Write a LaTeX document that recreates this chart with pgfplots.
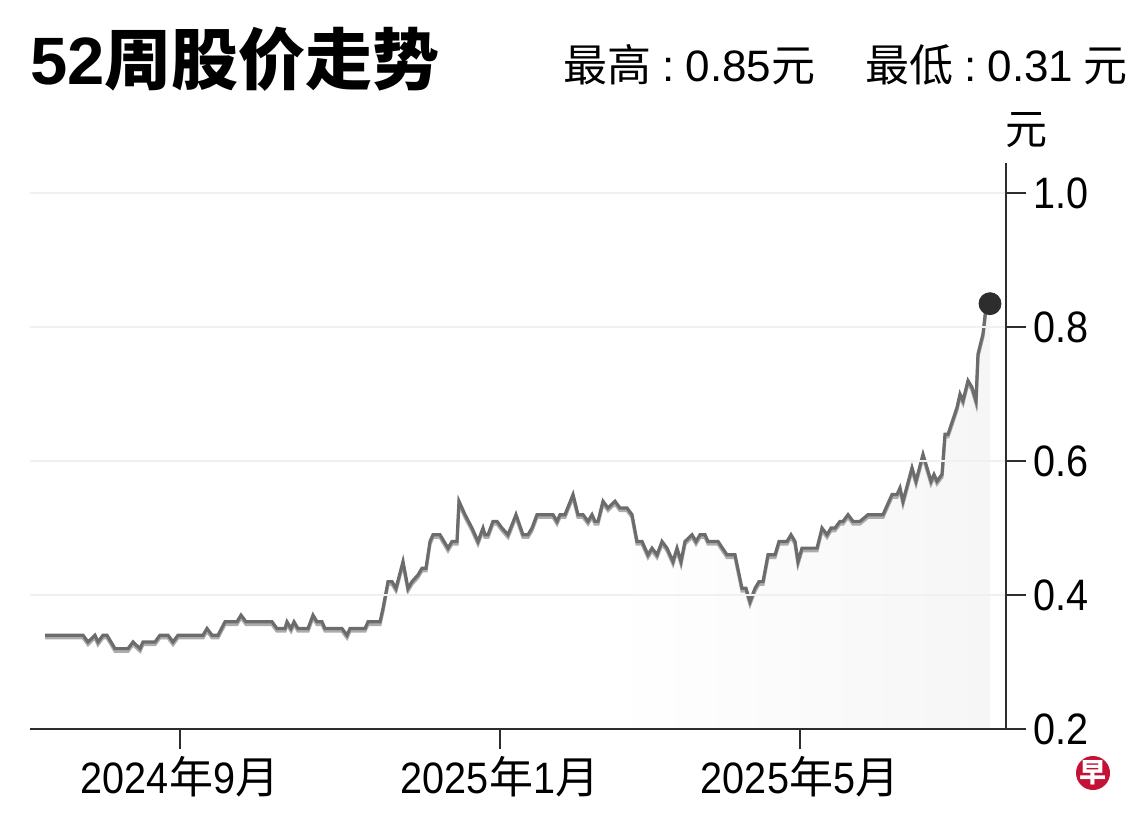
\documentclass[border=0pt]{standalone}
\usepackage{fontspec}
\setmainfont{Liberation Sans}
\newfontfamily\tickfont[FakeStretch=0.9]{Liberation Sans}
\newfontfamily\cjk{Noto Sans CJK SC}
\usepackage{pgfplots}
\usepackage{pgfplotstable}
\pgfplotsset{compat=1.18}
\definecolor{linegray}{RGB}{108,108,108}
\definecolor{shadowgray}{RGB}{172,172,172}
\definecolor{axisgray}{RGB}{45,45,45}
\definecolor{logored}{RGB}{196,18,54}
\pgfdeclarehorizontalshading{areafade}{100bp}{color(0bp)=(white); color(55bp)=(white); color(100bp)=(black!8)}
\pgfplotstableread{
x y
45 0.34
83 0.34
88 0.33
95 0.34
98 0.33
103 0.34
107 0.34
115 0.32
128 0.32
133 0.33
140 0.32
143 0.33
155 0.33
160 0.34
168 0.34
173 0.33
178 0.34
203 0.34
207 0.35
212 0.34
218 0.34
225 0.36
237 0.36
241 0.37
246 0.36
272 0.36
277 0.35
285 0.35
287 0.36
291 0.35
294 0.36
298 0.35
308 0.35
313 0.37
317 0.36
322 0.36
325 0.35
342 0.35
347 0.34
350 0.35
365 0.35
368 0.36
380 0.36
383 0.38
388 0.42
392 0.42
396 0.41
403 0.45
408 0.41
412 0.42
418 0.43
422 0.44
426 0.44
430 0.48
433 0.49
440 0.49
448 0.47
452 0.48
457 0.48
459 0.54
465 0.52
472 0.50
478 0.48
483 0.50
485 0.49
488 0.49
493 0.51
497 0.51
502 0.50
508 0.49
516 0.52
523 0.49
528 0.49
532 0.50
537 0.52
553 0.52
557 0.51
560 0.52
565 0.52
573 0.55
578 0.52
583 0.52
588 0.51
592 0.52
595 0.51
598 0.51
603 0.54
608 0.53
615 0.54
620 0.53
627 0.53
632 0.52
637 0.48
642 0.48
648 0.46
652 0.47
657 0.46
662 0.48
667 0.47
673 0.45
677 0.47
681 0.45
685 0.48
692 0.49
696 0.48
700 0.49
705 0.49
708 0.48
718 0.48
727 0.46
735 0.46
742 0.41
746 0.41
750 0.39
755 0.41
759 0.42
763 0.42
768 0.46
775 0.46
779 0.48
787 0.48
791 0.49
795 0.48
798 0.45
802 0.47
817 0.47
822 0.50
827 0.49
831 0.50
835 0.50
840 0.51
843 0.51
848 0.52
853 0.51
860 0.51
868 0.52
883 0.52
892 0.55
897 0.55
900 0.56
903 0.54
912 0.59
916 0.57
923 0.61
931 0.57
934 0.58
937 0.57
942 0.58
945 0.64
948 0.64
957 0.68
960 0.70
963 0.69
968 0.72
972 0.71
976 0.69
978 0.76
983 0.79
986 0.83
990 0.835
}\pricedata
\begin{document}
\begin{tikzpicture}[x=0.5pt,y=0.5pt]
\useasboundingbox (0,0) rectangle (1140,820);
\begin{axis}[
  at={(15pt,45.5pt)}, anchor=south west,
  scale only axis, width=488pt, height=283pt,
  xmin=30, xmax=1006, ymin=0.2, ymax=1.045,
  axis x line=bottom, axis y line=right,
  axis line style={-, draw=axisgray, line width=1pt},
  axis on top,
  xtick={180,500,800},
  xticklabels={2024{\cjk 年}9{\cjk 月},2025{\cjk 年}1{\cjk 月},2025{\cjk 年}5{\cjk 月}},
  ytick={0.2,0.4,0.6,0.8,1.0},
  tick align=outside, major tick length=10pt,
  tick style={draw=axisgray, line width=1pt},
  ymajorgrids, grid style={draw=black!6, line width=1pt},
  yticklabel style={/pgf/number format/fixed, /pgf/number format/fixed zerofill, /pgf/number format/precision=1},
  /pgf/number format/assume math mode=true,
  ticklabel style={font=\fontsize{22}{24}\selectfont\tickfont, text=black},
]
\addplot[draw=none, shading=areafade] table[x=x,y=y] {\pricedata} \closedcycle;
\addplot[shadowgray, line width=1.6pt, yshift=-1.3pt] table[x=x,y=y] {\pricedata};
\addplot[linegray, line width=1.6pt] table[x=x,y=y] {\pricedata};
\addplot[only marks, mark=*, mark size=5.5pt, mark options={fill=axisgray, draw=axisgray}] coordinates {(990,0.835)};
\end{axis}
\node[anchor=base west, inner sep=0, font=\fontsize{33.5}{36}\selectfont\bfseries] at (30,735) {52{\cjk 周股价走势}};
\node[anchor=base west, inner sep=0, font=\fontsize{22}{24}\selectfont] at (563,738) {{\cjk 最高}\hspace{5.5pt}:\hspace{5.5pt}0.85{\cjk 元}};
\node[anchor=base west, inner sep=0, font=\fontsize{22}{24}\selectfont] at (865,738) {{\cjk 最低}\hspace{5.5pt}:\hspace{5.5pt}0.31\hspace{5pt}{\cjk 元}};
\node[font=\fontsize{21}{24}\selectfont\cjk] at (1026,690) {元};
\fill[logored] (1093,47) circle (8.5pt);
\node[text=white, font=\fontsize{13.5}{14}\selectfont\bfseries\cjk] at (1093,47) {早};
\end{tikzpicture}
\end{document}
